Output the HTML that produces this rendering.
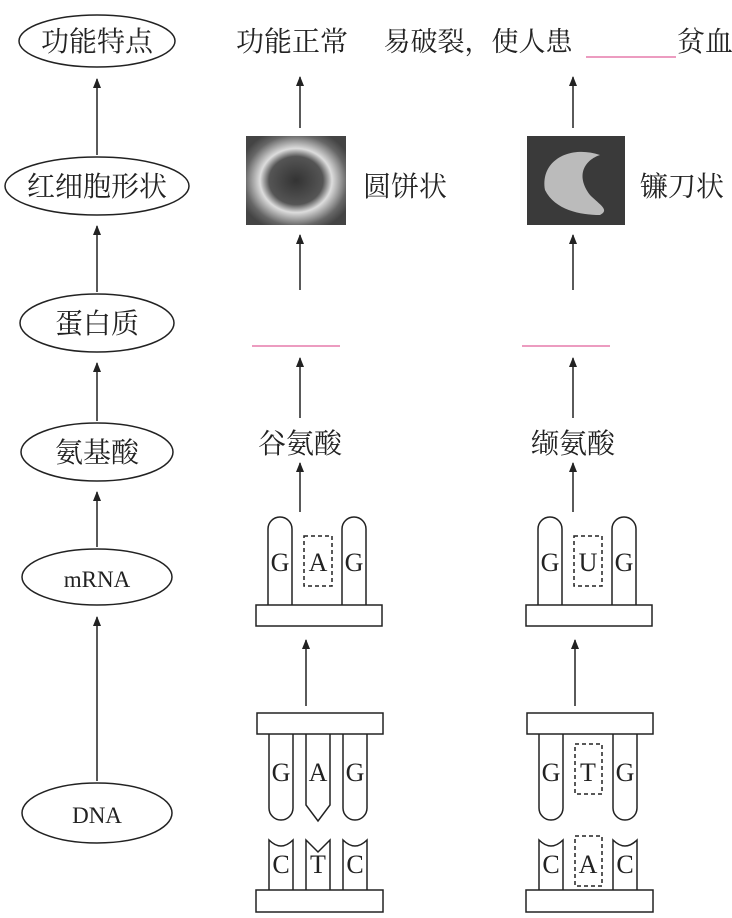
<!DOCTYPE html>
<html><head><meta charset="utf-8"><style>
body{margin:0;background:#fff}
svg text{font-family:"Liberation Serif","Noto Serif CJK SC",serif;fill:#222}
</style></head><body>
<svg width="732" height="913" viewBox="0 0 732 913" xmlns="http://www.w3.org/2000/svg">
<defs>
<marker id="a" markerWidth="8" markerHeight="10" refX="4" refY="1" orient="0" markerUnits="userSpaceOnUse"><path d="M0,10 L4,0 L8,10 Z" fill="#222"/></marker>
<radialGradient id="g1" cx="50%" cy="50%" r="60%"><stop offset="0" stop-color="#333"/><stop offset="0.45" stop-color="#555"/><stop offset="0.6" stop-color="#ddd"/><stop offset="0.85" stop-color="#666"/><stop offset="1" stop-color="#444"/></radialGradient>
</defs>
<g stroke="#222" stroke-width="1.5" fill="none">
<ellipse cx="97" cy="41" rx="78" ry="26"/>
<ellipse cx="97" cy="186" rx="92" ry="29"/>
<ellipse cx="97" cy="323" rx="77" ry="29"/>
<ellipse cx="97" cy="452" rx="76" ry="29"/>
<ellipse cx="97" cy="577" rx="75" ry="28"/>
<ellipse cx="97" cy="813" rx="75" ry="30"/>
<line x1="97" y1="155" x2="97" y2="79" marker-end="url(#a)"/>
<line x1="97" y1="292" x2="97" y2="226" marker-end="url(#a)"/>
<line x1="97" y1="421" x2="97" y2="363" marker-end="url(#a)"/>
<line x1="97" y1="547" x2="97" y2="492" marker-end="url(#a)"/>
<line x1="97" y1="781" x2="97" y2="617" marker-end="url(#a)"/>
<line x1="300" y1="128" x2="300" y2="77" marker-end="url(#a)"/>
<line x1="300" y1="290" x2="300" y2="235" marker-end="url(#a)"/>
<line x1="300" y1="418" x2="300" y2="358" marker-end="url(#a)"/>
<line x1="300" y1="512" x2="300" y2="463" marker-end="url(#a)"/>
<line x1="306" y1="706" x2="306" y2="640" marker-end="url(#a)"/>
<line x1="573" y1="128" x2="573" y2="77" marker-end="url(#a)"/>
<line x1="573" y1="290" x2="573" y2="235" marker-end="url(#a)"/>
<line x1="573" y1="418" x2="573" y2="358" marker-end="url(#a)"/>
<line x1="573" y1="512" x2="573" y2="463" marker-end="url(#a)"/>
<line x1="575" y1="706" x2="575" y2="640" marker-end="url(#a)"/>
</g>
<g stroke="#e0609a" stroke-width="1.3">
<line x1="586" y1="57" x2="676" y2="57"/>
<line x1="252" y1="346" x2="340" y2="346"/>
<line x1="522" y1="346" x2="610" y2="346"/>
</g>
<rect x="246" y="136" width="100" height="89" fill="url(#g1)"/>
<rect x="527" y="136" width="98" height="89" fill="#3a3a3a"/>
<path d="M545,190 C540,160 570,145 600,155 C585,160 575,175 590,195 C600,205 610,210 600,215 C580,215 555,210 545,190 Z" fill="#bbb"/>
<g stroke="#222" stroke-width="1.5" fill="none">
<path d="M268,605 V529 A12,12 0 0 1 292,529 V605"/>
<path d="M342,605 V529 A12,12 0 0 1 366,529 V605"/>
<rect x="304" y="536" width="28" height="50" stroke-dasharray="4,3"/>
<rect x="256" y="605" width="126" height="21"/>
<rect x="257" y="713" width="126" height="21"/>
<path d="M269,734 V808 A12,12 0 0 0 293,808 V734"/>
<path d="M306,734 V805 L318,821 L330,805 V734"/>
<path d="M343,734 V808 A12,12 0 0 0 367,808 V734"/>
<path d="M269,890 V840 Q281,852 293,840 V890"/>
<path d="M306,890 V840 L318,852 L330,840 V890"/>
<path d="M343,890 V840 Q355,852 367,840 V890"/>
<rect x="256" y="890" width="127" height="22"/>
</g>
<g stroke="#222" stroke-width="1.5" fill="none" transform="translate(270,0)">
<path d="M268,605 V529 A12,12 0 0 1 292,529 V605"/>
<path d="M342,605 V529 A12,12 0 0 1 366,529 V605"/>
<rect x="304" y="536" width="28" height="50" stroke-dasharray="4,3"/>
<rect x="256" y="605" width="126" height="21"/>
<rect x="257" y="713" width="126" height="21"/>
<path d="M269,734 V808 A12,12 0 0 0 293,808 V734"/>
<rect x="305" y="744" width="27" height="50" stroke-dasharray="4,3"/>
<path d="M343,734 V808 A12,12 0 0 0 367,808 V734"/>
<path d="M269,890 V840 Q281,852 293,840 V890"/>
<rect x="305" y="836" width="27" height="50" stroke-dasharray="4,3"/>
<path d="M343,890 V840 Q355,852 367,840 V890"/>
<rect x="256" y="890" width="127" height="22"/>
</g>
<g font-size="28" text-anchor="middle">
<text x="97" y="51">功能特点</text>
<text x="97" y="196">红细胞形状</text>
<text x="97" y="333">蛋白质</text>
<text x="97" y="462">氨基酸</text>
<text x="97" y="587" font-size="23">mRNA</text>
<text x="97" y="823" font-size="23">DNA</text>
<text x="292" y="51">功能正常</text>
<text x="478" y="51" font-size="27">易破裂，使人患</text>
<text x="705" y="51">贫血</text>
<text x="405" y="196">圆饼状</text>
<text x="682" y="196">镰刀状</text>
<text x="300" y="453">谷氨酸</text>
<text x="573" y="453">缬氨酸</text>
</g>
<g font-size="26" text-anchor="middle">
<text x="280" y="571">G</text><text x="318" y="571">A</text><text x="354" y="571">G</text>
<text x="281" y="781">G</text><text x="318" y="781">A</text><text x="355" y="781">G</text>
<text x="281" y="873">C</text><text x="318" y="873">T</text><text x="355" y="873">C</text>
<text x="550" y="571">G</text><text x="588" y="571">U</text><text x="624" y="571">G</text>
<text x="551" y="781">G</text><text x="588" y="781">T</text><text x="625" y="781">G</text>
<text x="551" y="873">C</text><text x="588" y="873">A</text><text x="625" y="873">C</text>
</g>
</svg>
</body></html>
